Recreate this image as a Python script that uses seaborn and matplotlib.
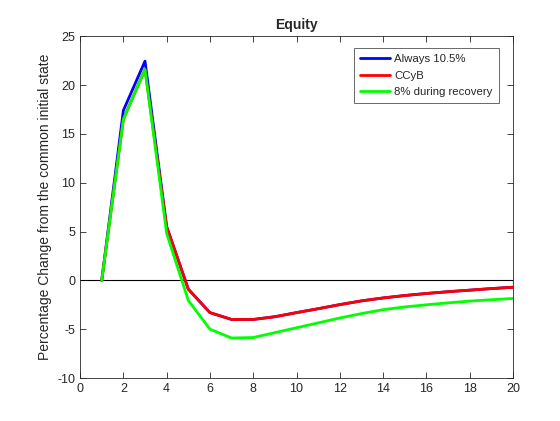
import matplotlib
matplotlib.use("Agg")
import matplotlib.pyplot as plt
import seaborn as sns
import pandas as pd

periods = list(range(1, 21))
always_105 = [0, 17.4, 22.45, 5.5, -0.9, -3.3, -4.0, -4.0, -3.72, -3.3,
              -2.9, -2.48, -2.1, -1.8, -1.55, -1.34, -1.16, -1.0, -0.84, -0.7]
ccyb = [0, 16.5, 21.6, 5.5, -0.9, -3.3, -4.0, -4.0, -3.72, -3.3,
        -2.9, -2.48, -2.1, -1.8, -1.55, -1.34, -1.16, -1.0, -0.84, -0.7]
recovery_8 = [0, 16.5, 21.6, 4.8, -2.05, -5.0, -5.9, -5.85, -5.35, -4.85,
              -4.35, -3.85, -3.4, -3.0, -2.72, -2.5, -2.3, -2.12, -1.98, -1.85]
series_names = ["Always 10.5%", "CCyB", "8% during recovery"]
colors = ["#0000ff", "#ff0000", "#00ff00"]

df = pd.concat([
    pd.DataFrame({"period": periods, "value": vals, "policy": name})
    for name, vals in zip(series_names, [always_105, ccyb, recovery_8])
])

sns.set_style("white")
plt.rcParams["font.family"] = ["Liberation Sans", "DejaVu Sans"]
plt.rcParams["axes.unicode_minus"] = False

fig = plt.figure(figsize=(5.6, 4.21), dpi=100)
ax = fig.add_axes([0.143, 0.102, 0.773, 0.812])
ax.axhline(0, color="black", linewidth=0.8, zorder=1)
sns.lineplot(df, x="period", y="value", hue="policy", hue_order=series_names,
             palette=colors, linewidth=2, ax=ax, zorder=3)

ax.set_xlim(0, 20)
ax.set_ylim(-10, 25)
ax.set_xticks(range(0, 21, 2))
ax.set_yticks(range(-10, 26, 5))
ax.tick_params(direction="in", length=4, width=0.6, labelsize=9,
               top=True, right=True, bottom=True, left=True, colors="#262626")
for s in ax.spines.values():
    s.set_color("#262626")
    s.set_linewidth(0.6)
ax.set_xlabel("")
ax.set_ylabel("Percentage Change from the common initial state", fontsize=10, labelpad=4)
ax.set_title("Equity", fontsize=10, fontweight="bold", pad=5)

leg = ax.legend(loc="upper right", bbox_to_anchor=(0.968, 0.965), borderaxespad=0,
                fontsize=8.2, frameon=True, fancybox=False, edgecolor="#262626",
                handlelength=2.6, handletextpad=0.4, borderpad=0.55, labelspacing=0.55)
leg.get_frame().set_linewidth(0.6)

fig.savefig("out.png", dpi=100, facecolor="white")
